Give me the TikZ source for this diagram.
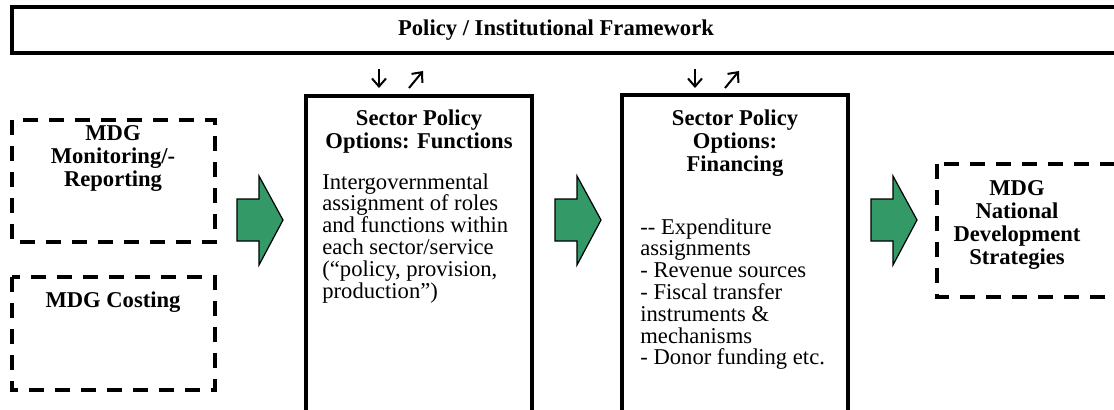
\documentclass[tikz,border=0pt]{standalone}
\usepackage{fontspec}
\setmainfont{Liberation Serif}
\usetikzlibrary{arrows.meta}
\definecolor{arrowgreen}{RGB}{51,153,102}
\tikzset{
  dashbox/.style={line width=2pt,dash pattern=on 7.5pt off 5.5pt},
  solidbox/.style={line width=1.6pt},
  head/.style={font=\bfseries\fontsize{11.3}{11.5}\selectfont,align=center,inner sep=0pt},
  body/.style={font=\fontsize{11.3}{10.9}\selectfont,align=left,inner sep=0pt,anchor=north west},
  blockarrow/.style={fill=arrowgreen,draw=black,line width=0.6pt},
  flowtip/.style={line width=1pt,-{Straight Barb[length=4pt,width=7pt]}}
}
\begin{document}
\begin{tikzpicture}[x=0.5pt,y=-0.5pt]
\useasboundingbox (0,0) rectangle (1114,409);
% framework bar
\draw[solidbox] (12,7) rectangle (1140,53);
\node[head] (policy) at (556,30) {Policy / Institutional Framework};
% MDG inputs (dashed)
\draw[dashbox] (12,120) rectangle (215,242);
\node[head] (monitor) at (113,159) {MDG\\Monitoring/-\\Reporting};
\draw[dashbox] (12,277) rectangle (215,390);
\node[head] (costing) at (113,302) {MDG Costing};
% functions
\draw[solidbox] (306,420) |- (532,96) -- (532,420);
\node[head] (functions) at (419,132) {Sector Policy\\Options: Functions};
\node[body] (roles) at (322,173) {Intergovernmental\\assignment of roles\\and functions within\\each sector/service\\(“policy, provision,\\production”)};
% financing
\draw[solidbox] (622,420) |- (848,95) -- (848,420);
\node[head] (financing) at (735,143) {Sector Policy\\Options:\\Financing};
\node[body] (sources) at (640,218) {-{}- Expenditure\\assignments\\- Revenue sources\\- Fiscal transfer\\instruments \&\\mechanisms\\- Donor funding etc.};
% strategies (dashed)
\draw[dashbox] (937,164) rectangle (1140,297);
\node[head] (strategies) at (1017,225) {MDG\\National\\Development\\Strategies};
% green block arrows
\foreach \x in {237,555,871}
  \draw[blockarrow] (\x,199) -- ({\x+22},199) -- ({\x+22},176) -- ({\x+46},220)
    -- ({\x+22},265) -- ({\x+22},241) -- (\x,241) -- cycle;
% small arrows under the bar
\foreach \x in {379,695}{
  \draw[flowtip] (\x,69) -- (\x,88);
  \draw[flowtip] ({\x+30},88) -- ({\x+44},71);
}
\end{tikzpicture}
\end{document}
